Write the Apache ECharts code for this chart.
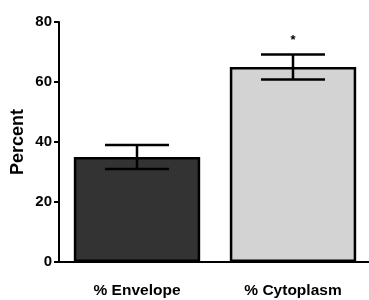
<!DOCTYPE html>
<html>
<head>
<meta charset="utf-8">
<script src="https://cdn.jsdelivr.net/npm/echarts@6/dist/echarts.min.js"></script>
<style>
html, body { margin: 0; padding: 0; background: #fff; }
#chart { width: 369px; height: 300px; }
</style>
</head>
<body>
<div id="chart"></div>
<script>
var categories = ['% Envelope', '% Cytoplasm'];
var means = [35, 65];
var errors = [4, 4.2];
var marks = ['', '*'];
var barColors = ['#333333', '#d3d3d3'];

var chart = echarts.init(document.getElementById('chart'));

var errData = [];
for (var i = 0; i < categories.length; i++) {
    errData.push([i, means[i] - errors[i], means[i] + errors[i], marks[i]]);
}

var option = {
    animation: false,
    textStyle: { fontFamily: 'Liberation Sans, Arial, sans-serif' },
    grid: { left: 59, right: -2, top: 22, bottom: 38, outerBoundsMode: 'none' },
    xAxis: {
        type: 'category',
        data: categories,
        axisLine: { lineStyle: { color: '#000', width: 2 } },
        axisTick: { alignWithLabel: true, length: 5, lineStyle: { color: '#000', width: 2 } },
        axisLabel: { color: '#000', fontWeight: 'bold', fontSize: 15.5, margin: 21 }
    },
    yAxis: {
        type: 'value',
        min: 0,
        max: 80,
        interval: 20,
        name: 'Percent',
        nameLocation: 'middle',
        nameGap: 32,
        nameMoveOverlap: false,
        nameTextStyle: { color: '#000', fontWeight: 'bold', fontSize: 18 },
        splitLine: { show: false },
        axisLine: { show: true, lineStyle: { color: '#000', width: 2 } },
        axisTick: { show: true, length: 5, lineStyle: { color: '#000', width: 2 } },
        axisLabel: { color: '#000', fontWeight: 'bold', fontSize: 15, margin: 7 }
    },
    series: [
        {
            type: 'bar',
            barCategoryGap: '19%',
            data: means.map(function (v, i) {
                return { value: v, itemStyle: { color: barColors[i] } };
            }),
            itemStyle: { borderColor: '#000', borderWidth: 2.5 }
        },
        {
            type: 'custom',
            data: errData,
            z: 10,
            renderItem: function (params, api) {
                var x = api.value(0);
                var lo = api.coord([x, api.value(1)]);
                var hi = api.coord([x, api.value(2)]);
                var half = api.size([1, 0])[0] * 0.205;
                var style = { stroke: '#000', lineWidth: 2.5 };
                var children = [
                    { type: 'line', shape: { x1: hi[0], y1: hi[1], x2: lo[0], y2: lo[1] }, style: style },
                    { type: 'line', shape: { x1: hi[0] - half, y1: hi[1], x2: hi[0] + half, y2: hi[1] }, style: style },
                    { type: 'line', shape: { x1: lo[0] - half, y1: lo[1], x2: lo[0] + half, y2: lo[1] }, style: style }
                ];
                var mark = api.value(3);
                if (mark) {
                    children.push({
                        type: 'text',
                        style: {
                            text: mark, x: hi[0], y: hi[1] - 14,
                            align: 'center', verticalAlign: 'middle',
                            fill: '#000', fontSize: 13, fontWeight: 'bold',
                            fontFamily: 'Liberation Sans, Arial, sans-serif'
                        }
                    });
                }
                return { type: 'group', children: children };
            }
        }
    ]
};
chart.setOption(option);
</script>
</body>
</html>
